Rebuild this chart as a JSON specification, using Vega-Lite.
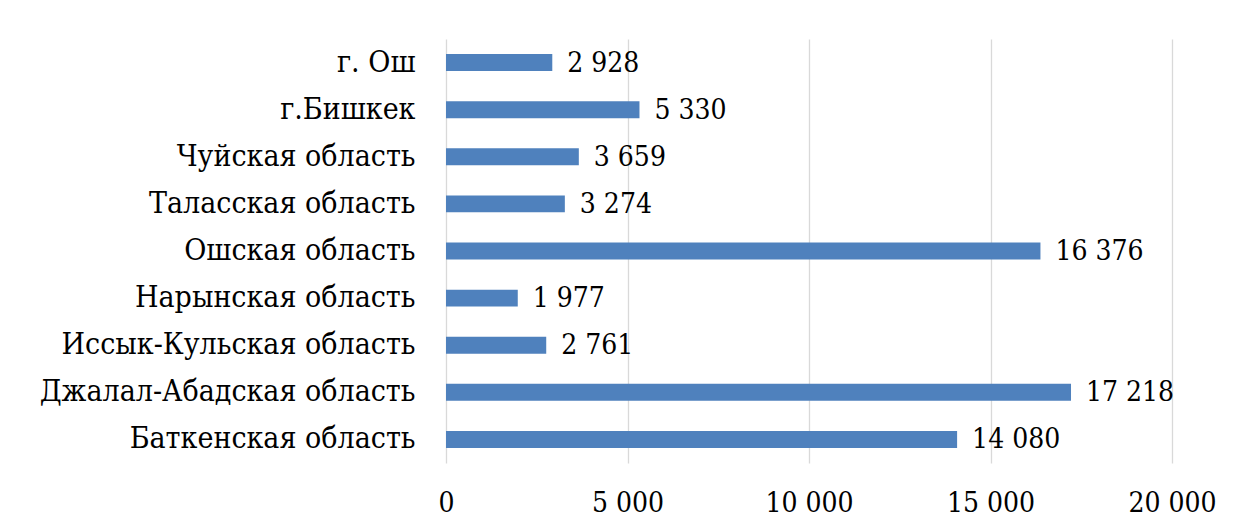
{
  "$schema": "https://vega.github.io/schema/vega-lite/v6.json",
  "autosize": {"type": "none"},
  "padding": {"left": 446, "top": 39, "right": 62, "bottom": 57},
  "width": 726,
  "height": 424,
  "background": "white",
  "config": {
    "locale": {"number": {"decimal": ",", "thousands": " ", "grouping": [3], "currency": ["", ""]}},
    "view": {"stroke": null},
    "font": "DejaVu Serif Condensed"
  },
  "data": {
    "values": [
      {"region": "г. Ош", "value": 2928},
      {"region": "г.Бишкек", "value": 5330},
      {"region": "Чуйская область", "value": 3659},
      {"region": "Таласская область", "value": 3274},
      {"region": "Ошская область", "value": 16376},
      {"region": "Нарынская область", "value": 1977},
      {"region": "Иссык-Кульская область", "value": 2761},
      {"region": "Джалал-Абадская область", "value": 17218},
      {"region": "Баткенская область", "value": 14080}
    ]
  },
  "encoding": {
    "y": {
      "field": "region", "type": "nominal", "sort": null,
      "scale": {"paddingInner": 0.64, "paddingOuter": 0.32},
      "axis": {"title": null, "domain": false, "ticks": false, "labelPadding": 31, "labelLimit": 0,
               "labelFontSize": 30, "labelColor": "#000000", "labelFont": "DejaVu Serif Condensed"}
    },
    "x": {
      "field": "value", "type": "quantitative",
      "scale": {"domain": [0, 20000], "nice": false},
      "axis": {"title": null, "values": [0, 5000, 10000, 15000, 20000], "format": ",d",
               "grid": true, "gridColor": "#d9d9d9", "gridWidth": 1.3, "domain": false, "ticks": false,
               "labelPadding": 26, "labelFontSize": 28, "labelColor": "#000000",
               "labelFont": "DejaVu Serif Condensed", "labelOverlap": false, "labelFlush": false}
    }
  },
  "layer": [
    {"mark": {"type": "bar", "color": "#4f81bd"}},
    {"mark": {"type": "text", "align": "left", "baseline": "middle", "dx": 15, "dy": 1, "fontSize": 28, "color": "#000000", "font": "DejaVu Serif Condensed"},
     "encoding": {"text": {"field": "value", "type": "quantitative", "format": ",d"}}}
  ]
}
